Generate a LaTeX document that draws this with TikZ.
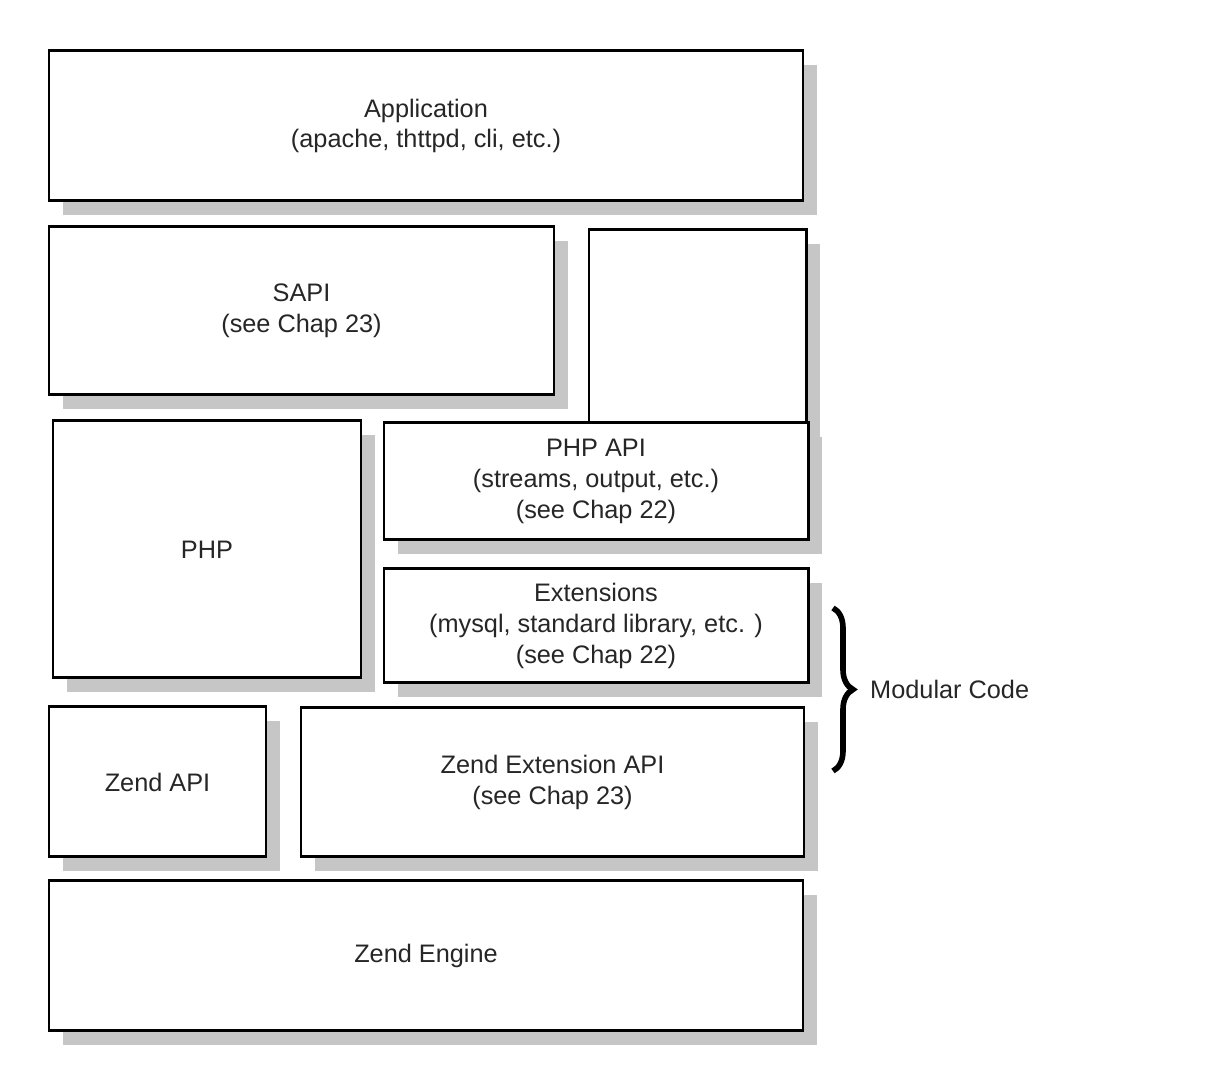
\documentclass[tikz,border=0pt]{standalone}
\usepackage{fontspec}
\setmainfont{Liberation Sans}
\usetikzlibrary{%
  shadows,%
  positioning,%
  decorations.pathreplacing% brace
}

\begin{document}
\begin{tikzpicture}[
  font=\fontsize{7.2}{8.8}\selectfont, line width=0.85pt,
  layer/.style={rectangle, draw=black, fill=white, text=black!85, align=center, inner sep=0pt,
    drop shadow={shadow xshift=0.14cm, shadow yshift=-0.14cm, fill=gray!45, opacity=1}},
  brace/.style={decorate, decoration={brace, amplitude=2mm}, line width=1.6pt}
]
\useasboundingbox (0,0) rectangle (12.06,-10.78);

\node[layer, minimum width=7.54cm, minimum height=1.50cm] (app) at (4.26,-1.26) {Application\\(apache, thttpd, cli, etc.)};
\node[layer, minimum width=5.05cm, minimum height=1.68cm] (sapi) at (3.015,-3.11) {SAPI\\(see Chap 23)};
\node[layer, minimum width=2.17cm, minimum height=1.93cm] (blank) at (6.975,-3.265) {};
\node[layer, minimum width=3.08cm, minimum height=2.57cm] (php) at (2.07,-5.495) {PHP};
\node[layer, minimum width=4.24cm, minimum height=1.17cm] (phpapi) at (5.96,-4.815) {PHP API\\(streams, output, etc.)\\(see Chap 22)};
\node[layer, minimum width=4.24cm, minimum height=1.14cm] (ext) at (5.96,-6.26) {Extensions\\(mysql, standard library, etc. )\\(see Chap 22)};
\node[layer, minimum width=2.17cm, minimum height=1.50cm] (zendapi) at (1.575,-7.82) {Zend API};
\node[layer, minimum width=5.03cm, minimum height=1.49cm] (zendext) at (5.525,-7.825) {Zend Extension API\\(see Chap 23)};
\node[layer, minimum width=7.54cm, minimum height=1.50cm] (engine) at (4.26,-9.56) {Zend Engine};

% brace for the modular part
\coordinate (bracetop) at (8.33,-6.08);
\coordinate (bracebot) at (8.33,-7.71);
\draw[brace] (bracetop) -- (bracebot);
\node[anchor=west, text=black!85] (modular) at (8.57,-6.89) {Modular Code};
\end{tikzpicture}
\end{document}
